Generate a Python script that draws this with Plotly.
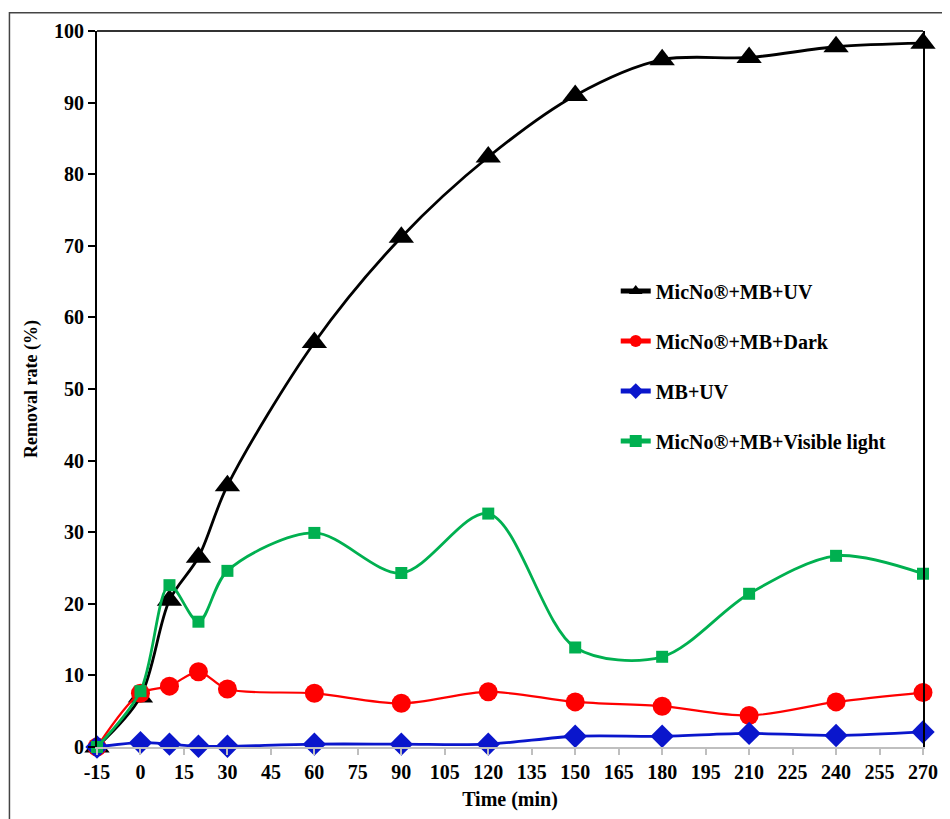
import plotly.graph_objects as go

time = [-15, 0, 10, 20, 30, 60, 90, 120, 150, 180, 210, 240, 270]
uv = [0, 7.0, 20.5, 26.5, 36.5, 56.5, 71.2, 82.4, 91.0, 96.0, 96.3, 97.8, 98.3]
dark = [0, 7.5, 8.5, 10.5, 8.1, 7.5, 6.1, 7.7, 6.3, 5.7, 4.4, 6.3, 7.6]
mb_uv = [0, 0.6, 0.4, 0.1, 0.1, 0.4, 0.4, 0.4, 1.5, 1.5, 1.9, 1.6, 2.1]
visible = [0, 7.8, 22.6, 17.5, 24.6, 29.9, 24.3, 32.6, 13.9, 12.6, 21.4, 26.7, 24.2]

x_ticks = list(range(-15, 271, 15))
x_ticktext = [str(v) for v in x_ticks]  # plain hyphen for -15

names = ["MicNo®+MB+UV", "MicNo®+MB+Dark", "MB+UV", "MicNo®+MB+Visible light"]
colors = ["#000000", "#ff0000", "#0a16cc", "#00b050"]
symbols = ["triangle-up", "circle", "diamond", "square"]
sizes = [22, 19, 18, 12]
widths = [2.8, 2.2, 2.8, 2.8]
series = [uv, dark, mb_uv, visible]

FONT = "Liberation Serif"
fig = go.Figure()
for i, (nm, ys) in enumerate(zip(names, series)):
    fig.add_trace(go.Scatter(
        x=time, y=ys, name=nm, mode="lines+markers",
        line=dict(color=colors[i], width=widths[i], shape="spline", smoothing=0.9),
        marker=dict(symbol=symbols[i], size=sizes[i], color=colors[i]),
        cliponaxis=False, legendgroup=f"g{i}",
    ))

fig.update_layout(
    width=942, height=811,
    margin=dict(l=89, r=21, t=19, b=68),
    paper_bgcolor="white", plot_bgcolor="white",
    font=dict(family=FONT, size=20, color="black", weight="bold"),
    showlegend=True,
    legend=dict(x=0.628, y=0.664, xanchor="left", yanchor="top",
                bgcolor="rgba(0,0,0,0)", tracegroupgap=21,
                font=dict(family=FONT, size=20, color="black", weight="bold"),
                itemsizing="constant"),
    xaxis=dict(range=[-15, 270], tickmode="array", tickvals=x_ticks, ticktext=x_ticktext,
               showgrid=False, zeroline=False,
               showline=True, linecolor="#bfbfbf", linewidth=2,
               ticks="outside", ticklen=6, tickcolor="#bfbfbf", tickwidth=1.5,
               tickfont=dict(family=FONT, size=20, weight="bold"),
               title=dict(text="Time (min)", font=dict(family=FONT, size=20, weight="bold"), standoff=10)),
    yaxis=dict(range=[0, 100], dtick=10, showgrid=False, zeroline=False,
               showline=True, linecolor="black", linewidth=2, mirror=True,
               ticks="outside", ticklen=7, tickcolor="black", tickwidth=1.5,
               tickfont=dict(family=FONT, size=20, weight="bold"),
               title=dict(text="Removal rate (%)", font=dict(family=FONT, size=18, weight="bold"), standoff=12)),
    shapes=[
        dict(type="line", xref="paper", yref="paper", x0=0, x1=1, y0=1, y1=1,
             line=dict(color="#333333", width=2)),
        dict(type="rect", xref="paper", yref="paper", x0=-0.106, x1=1.1, y0=-0.12, y1=1.0255,
             line=dict(color="#444444", width=1.5), layer="below"),
    ],
)

fig.write_html("out.html")
